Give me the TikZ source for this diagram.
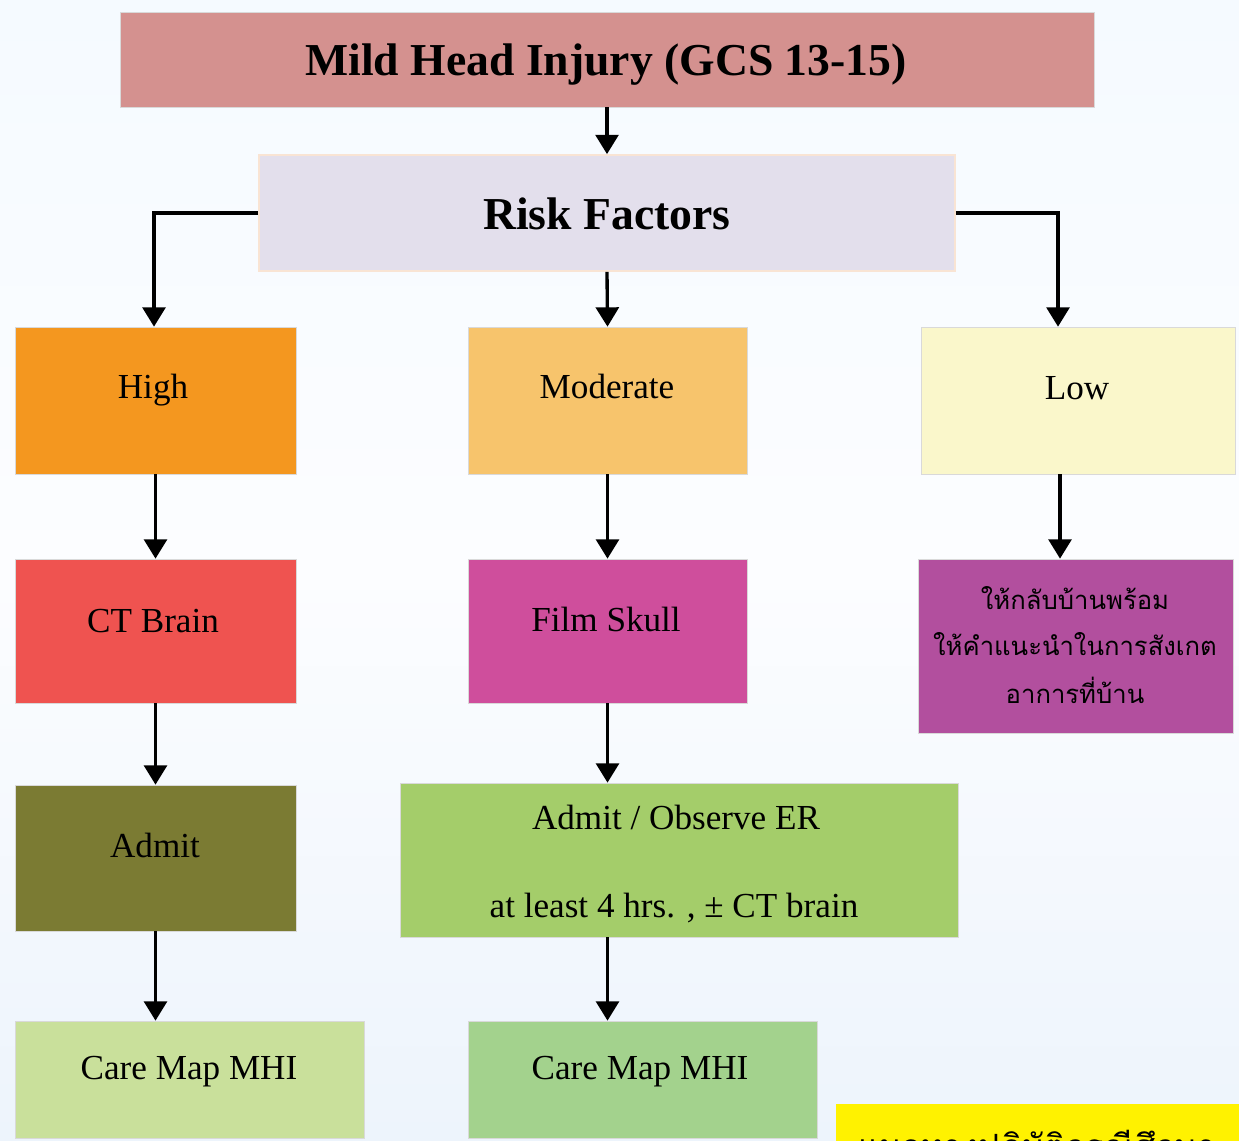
\documentclass[tikz,border=0pt]{standalone}
\usepackage{fontspec}
\setmainfont{Liberation Serif}
\newfontfamily\thaifont[Script=Thai]{Loma}
\usetikzlibrary{arrows.meta}
\definecolor{bgtop}{HTML}{F5FAFF}
\definecolor{bgmid}{HTML}{FCFDFF}
\definecolor{bgbot}{HTML}{EDF4FC}
\definecolor{ctitle}{HTML}{D4918F}
\definecolor{crisk}{HTML}{E3DFEC}
\definecolor{criskb}{HTML}{F9E4D4}
\definecolor{chigh}{HTML}{F4971F}
\definecolor{cmod}{HTML}{F7C46C}
\definecolor{clow}{HTML}{FAF7CB}
\definecolor{cct}{HTML}{EF5350}
\definecolor{cfilm}{HTML}{CF4E9C}
\definecolor{cthai}{HTML}{B24F9E}
\definecolor{cadmit}{HTML}{7B7B33}
\definecolor{cobs}{HTML}{A4CD6A}
\definecolor{ccareA}{HTML}{C9E09B}
\definecolor{ccareB}{HTML}{A3D28D}
\tikzset{
  box/.style={draw=white!70!gray, line width=0.4pt, inner sep=0pt, minimum width=5.62cm},
  lbl/.style={anchor=base, inner sep=0pt, font=\fontsize{20}{24}\selectfont},
  tlbl/.style={anchor=base, inner sep=0pt, font=\fontsize{26}{30}\selectfont\bfseries},
  thl/.style={anchor=base, inner sep=0pt, font=\thaifont\fontsize{14.6}{16}\selectfont},
  arr/.style={line width=1.9pt, -{Triangle[width=13pt,length=11pt]}},
}
\begin{document}
\begin{tikzpicture}[x=0.02cm, y=-0.02cm]
\useasboundingbox (0,0) rectangle (1239,1141);
\shade[top color=bgtop, bottom color=bgbot, middle color=bgmid] (0,0) rectangle (1239,1141);
\begin{scope}
\clip (0,0) rectangle (1239,1141);
% boxes
\node[box, fill=ctitle, minimum width=19.48cm, minimum height=1.9cm] (title) at (607,59.5) {};
\node[box, draw=criskb, line width=1pt, fill=crisk, minimum width=13.92cm, minimum height=2.32cm] (risk) at (607,213) {};
\node[box, fill=chigh, minimum height=2.94cm] (high) at (155.5,400.5) {};
\node[box, fill=cmod, minimum width=5.58cm, minimum height=2.94cm] (mod) at (607.5,400.5) {};
\node[box, fill=clow, minimum width=6.28cm, minimum height=2.94cm] (low) at (1078,400.5) {};
\node[box, fill=cct, minimum height=2.88cm] (ct) at (155.5,631) {};
\node[box, fill=cfilm, minimum width=5.58cm, minimum height=2.88cm] (film) at (607.5,631) {};
\node[box, fill=cthai, minimum width=6.3cm, minimum height=3.48cm] (thai) at (1075.5,646) {};
\node[box, fill=cadmit, minimum height=2.92cm] (admit) at (155.5,858) {};
\node[box, fill=cobs, minimum width=11.16cm, minimum height=3.08cm] (obs) at (679,860) {};
\node[box, fill=ccareA, minimum width=6.98cm, minimum height=2.34cm] (careA) at (189.5,1079.5) {};
\node[box, fill=ccareB, minimum width=6.98cm, minimum height=2.34cm] (careB) at (642.5,1079.5) {};
\node[fill=yellow, inner sep=0pt, minimum width=8.5cm, minimum height=1.6cm, anchor=north west] (note) at (836,1104) {};
% texts
\node[tlbl] (ttitle) at (606,76) {Mild Head Injury (GCS 13-15)};
\node[tlbl] (trisk) at (607,230) {Risk Factors};
\node[lbl] (thigh) at (153,399) {High};
\node[lbl] (tmod) at (607,399) {Moderate};
\node[lbl] (tlow) at (1077,400) {Low};
\node[lbl] (tct) at (153,632) {CT Brain};
\node[lbl] (tfilm) at (606,631) {Film Skull};
\node[thl] (th1) at (1075,609) {ให้กลับบ้านพร้อม};
\node[thl] (th2) at (1075,655) {ให้คำแนะนำในการสังเกต};
\node[thl] (th3) at (1075,703) {อาการที่บ้าน};
\node[lbl] (tadmit) at (155,857) {Admit};
\node[lbl] (tobs1) at (676,829) {Admit / Observe ER};
\node[lbl] (tobs2) at (674,917) {at least 4 hrs. , ± CT brain};
\node[lbl] (tcareA) at (189,1079) {Care Map MHI};
\node[lbl] (tcareB) at (640,1079) {Care Map MHI};
\node[anchor=base west, inner sep=0pt, font=\thaifont\fontsize{19}{22}\selectfont] (tnote) at (858,1158) {แนวทางปฏิบัติกรณีศึกษา};
\end{scope}
% connectors
\draw[arr] (title.south) -- (risk.north);
\draw[arr] (risk.west) -| ([xshift=-0.03cm]high.north);
\draw[arr] (risk.east) -| ([xshift=-0.4cm]low.north);
\draw[arr] (risk.south) -- (mod.north);
\draw[arr] (high.south) -- (ct.north);
\draw[arr] (mod.south) -- (film.north);
\draw[arr] ([xshift=-0.36cm]low.south) -- ([xshift=-0.36cm]low.south |- thai.north);
\draw[arr] (ct.south) -- (admit.north);
\draw[arr] (film.south) -- (film.south |- obs.north);
\draw[arr] (admit.south) -- (admit.south |- careA.north);
\draw[arr] (film.south |- obs.south) -- (film.south |- careB.north);
\end{tikzpicture}
\end{document}
